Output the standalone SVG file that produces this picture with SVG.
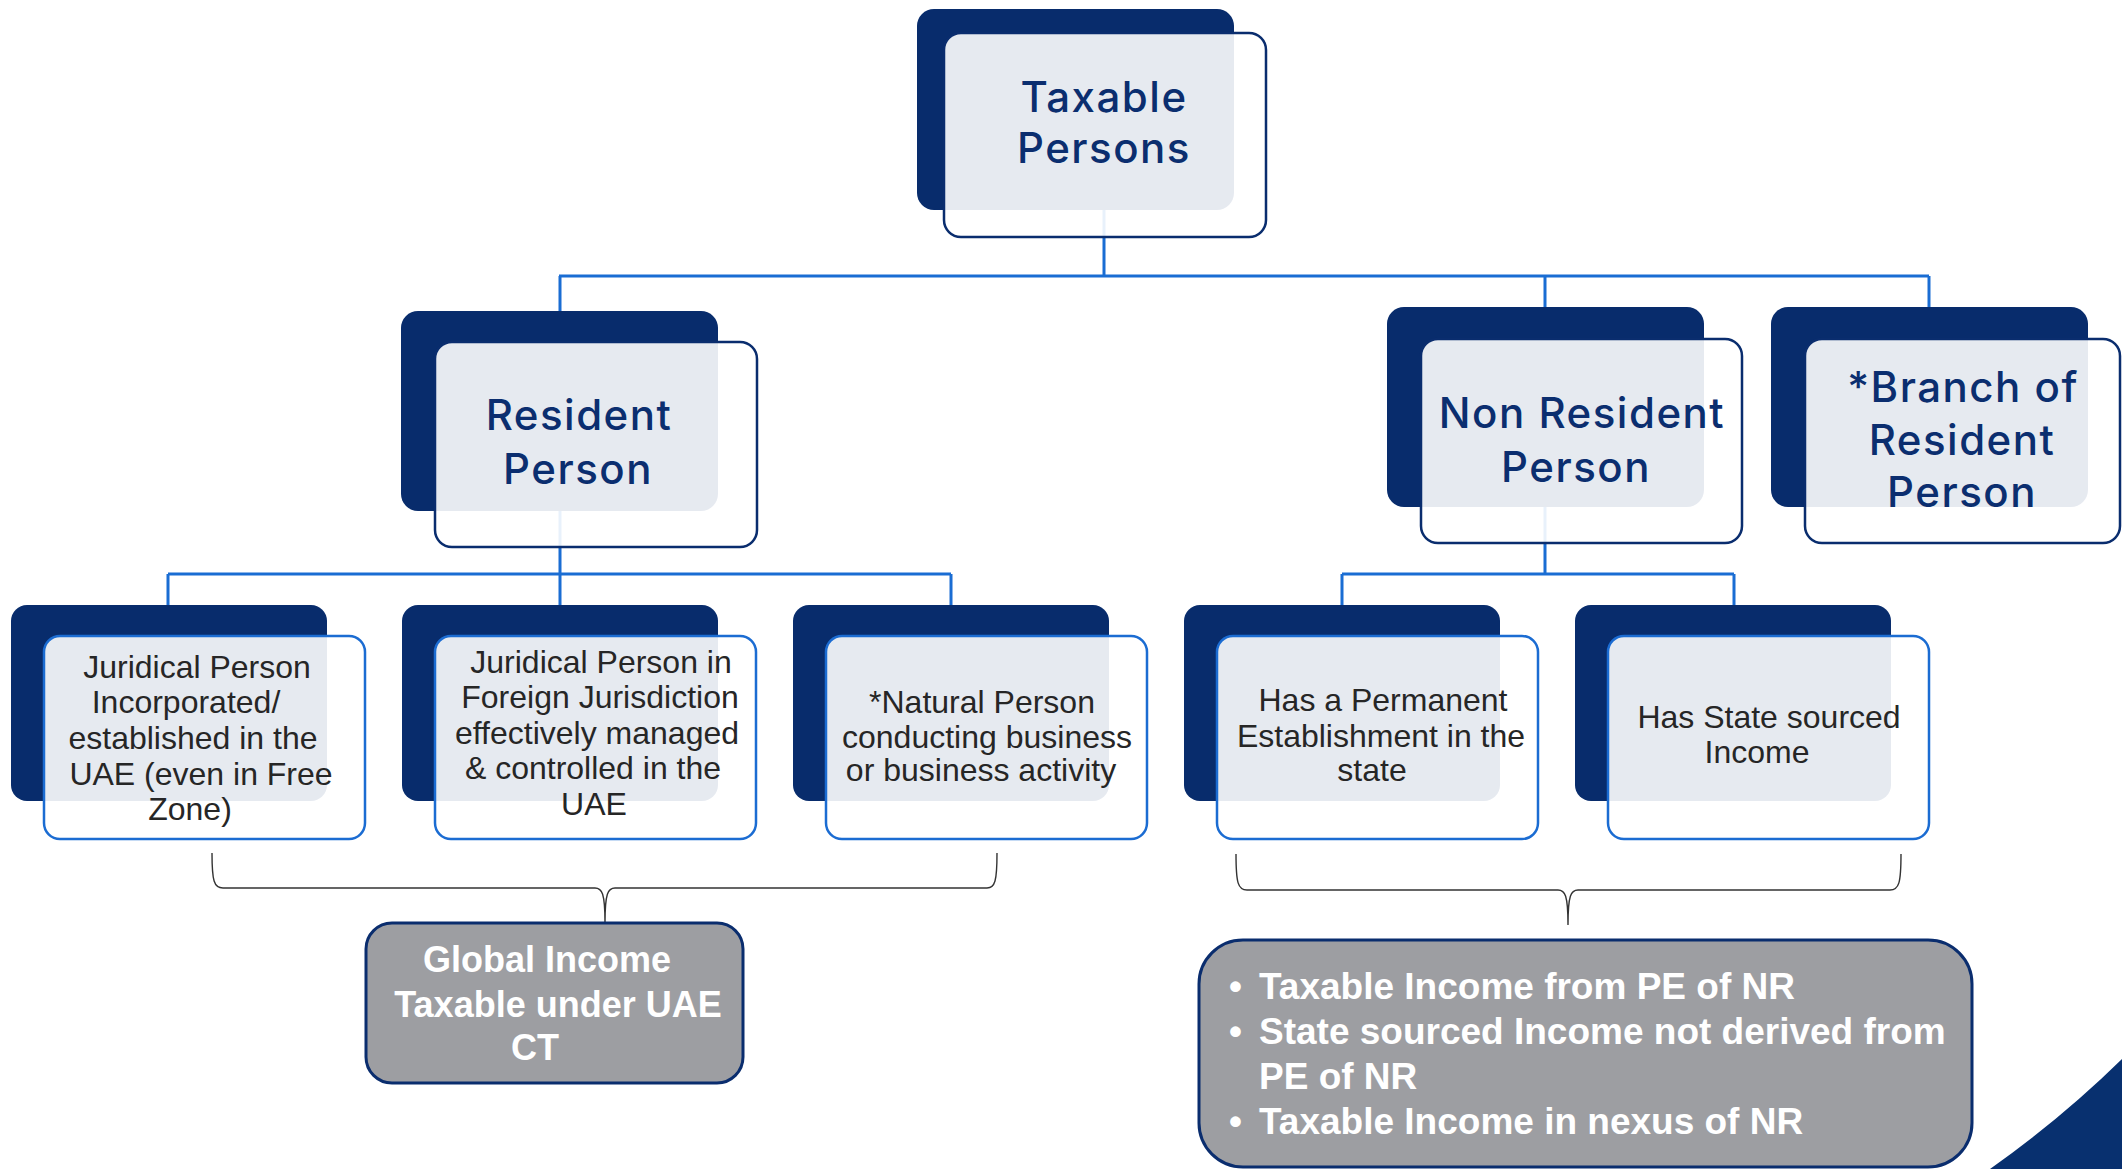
<svg xmlns="http://www.w3.org/2000/svg" width="2122" height="1169" viewBox="0 0 2122 1169">
  <style>
    .back { fill: #082C6C; }
    .front { fill: #FFFFFF; fill-opacity: 0.9; stroke: #0A2D6E; stroke-width: 2.5; }
    .front3 { fill: #FFFFFF; fill-opacity: 0.9; stroke: #1B6CD2; stroke-width: 2.5; }
    .head { font-family: Inter, "Open Sans", "Liberation Sans", sans-serif; font-weight: 500; font-size: 42px; letter-spacing: 1.5px; fill: #0B2E6F; text-anchor: middle; }
    .body { font-family: "Liberation Sans", Arial, sans-serif; font-size: 32px; fill: #262626; text-anchor: middle; }
    .result { fill: #9D9EA2; stroke: #0A2D6E; stroke-width: 3; }
    .rtext { font-family: "Liberation Sans", Arial, sans-serif; font-weight: bold; fill: #FFFFFF; }
    .link { stroke: #1A6DD3; stroke-width: 3; fill: none; }
    .brace { stroke: #333333; stroke-width: 1.4; fill: none; }
  </style>

  <!-- connectors sit behind the boxes -->
  <g id="connectors">
    <path class="link" d="M1104,150 V276 M559,276 H1929"/>
    <path class="link" d="M560,276 V574 M168,574 H951 M168,574 V605 M560,574 V605 M951,574 V605"/>
    <path class="link" d="M1545,276 V574 M1342,574 H1734 M1342,574 V605 M1734,574 V605"/>
    <path class="link" d="M1929,276 V307"/>
    <path class="brace" d="M212,853 C212,881 214,888 223,888 H595 C602,888 605,893 605,923 C605,893 608,888 615,888 H987 C995,888 997,881 997,853"/>
    <path class="brace" d="M1236,854 C1236,883 1238,890 1247,890 H1558 C1565,890 1568,895 1568,925 C1568,895 1571,890 1578,890 H1890 C1899,890 1901,883 1901,854"/>
  </g>

  <!-- top level -->
  <g id="taxable-persons">
    <rect class="back" x="917" y="9" width="317" height="201" rx="17"/>
    <rect class="front" x="944" y="33" width="322" height="204" rx="17"/>
    <text class="head" x="1104" y="112">Taxable</text>
    <text class="head" x="1104" y="163">Persons</text>
  </g>

  <!-- second level -->
  <g id="resident-person">
    <rect class="back" x="401" y="311" width="317" height="200" rx="17"/>
    <rect class="front" x="435" y="342" width="322" height="205" rx="17"/>
    <text class="head" x="579" y="430">Resident</text>
    <text class="head" x="578" y="484">Person</text>
  </g>

  <g id="non-resident-person">
    <rect class="back" x="1387" y="307" width="317" height="200" rx="17"/>
    <rect class="front" x="1421" y="339" width="321" height="204" rx="17"/>
    <text class="head" x="1582" y="428">Non Resident</text>
    <text class="head" x="1576" y="482">Person</text>
  </g>

  <g id="branch-of-resident-person">
    <rect class="back" x="1771" y="307" width="317" height="200" rx="17"/>
    <rect class="front" x="1805" y="339" width="315" height="204" rx="17"/>
    <text class="head" x="1963" y="402">*Branch of</text>
    <text class="head" x="1962" y="455">Resident</text>
    <text class="head" x="1962" y="507">Person</text>
  </g>

  <!-- third level -->
  <g id="juridical-uae">
    <rect class="back" x="11" y="605" width="316" height="196" rx="16"/>
    <rect class="front3" x="44" y="636" width="321" height="203" rx="16"/>
    <text class="body" x="197" y="678">Juridical Person</text>
    <text class="body" x="186" y="713">Incorporated/</text>
    <text class="body" x="193" y="749">established in the</text>
    <text class="body" x="201" y="785">UAE (even in Free</text>
    <text class="body" x="190" y="820">Zone)</text>
  </g>

  <g id="juridical-foreign">
    <rect class="back" x="402" y="605" width="316" height="196" rx="16"/>
    <rect class="front3" x="435" y="636" width="321" height="203" rx="16"/>
    <text class="body" x="601" y="673">Juridical Person in</text>
    <text class="body" x="600" y="708">Foreign Jurisdiction</text>
    <text class="body" x="597" y="744">effectively managed</text>
    <text class="body" x="593" y="779">&amp; controlled in the</text>
    <text class="body" x="594" y="815">UAE</text>
  </g>

  <g id="natural-person">
    <rect class="back" x="793" y="605" width="316" height="196" rx="16"/>
    <rect class="front3" x="826" y="636" width="321" height="203" rx="16"/>
    <text class="body" x="982" y="713">*Natural Person</text>
    <text class="body" x="987" y="748">conducting business</text>
    <text class="body" x="981" y="781">or business activity</text>
  </g>

  <g id="permanent-establishment">
    <rect class="back" x="1184" y="605" width="316" height="196" rx="16"/>
    <rect class="front3" x="1217" y="636" width="321" height="203" rx="16"/>
    <text class="body" x="1383" y="711">Has a Permanent</text>
    <text class="body" x="1381" y="747">Establishment in the</text>
    <text class="body" x="1372" y="781">state</text>
  </g>

  <g id="state-sourced-income">
    <rect class="back" x="1575" y="605" width="316" height="196" rx="16"/>
    <rect class="front3" x="1608" y="636" width="321" height="203" rx="16"/>
    <text class="body" x="1769" y="728">Has State sourced</text>
    <text class="body" x="1757" y="763">Income</text>
  </g>

  <!-- outcomes -->
  <g id="global-income">
    <rect class="result" x="366" y="923" width="377" height="160" rx="26"/>
    <text class="rtext" font-size="36" text-anchor="middle" x="547" y="972">Global Income</text>
    <text class="rtext" font-size="36" text-anchor="middle" x="558" y="1017">Taxable under UAE</text>
    <text class="rtext" font-size="36" text-anchor="middle" x="535" y="1060">CT</text>
  </g>

  <g id="non-resident-income">
    <rect class="result" x="1199" y="940" width="773" height="227" rx="44"/>
    <g class="rtext" font-size="37">
      <text x="1229" y="999">•</text>
      <text x="1259" y="999">Taxable Income from PE of NR</text>
      <text x="1229" y="1044">•</text>
      <text x="1259" y="1044">State sourced Income not derived from</text>
      <text x="1259" y="1089">PE of NR</text>
      <text x="1229" y="1134">•</text>
      <text x="1259" y="1134">Taxable Income in nexus of NR</text>
    </g>
  </g>

  <!-- corner accent -->
  <path d="M1990,1169 Q2062,1118 2122,1059 V1169 Z" fill="#08306F"/>
</svg>
